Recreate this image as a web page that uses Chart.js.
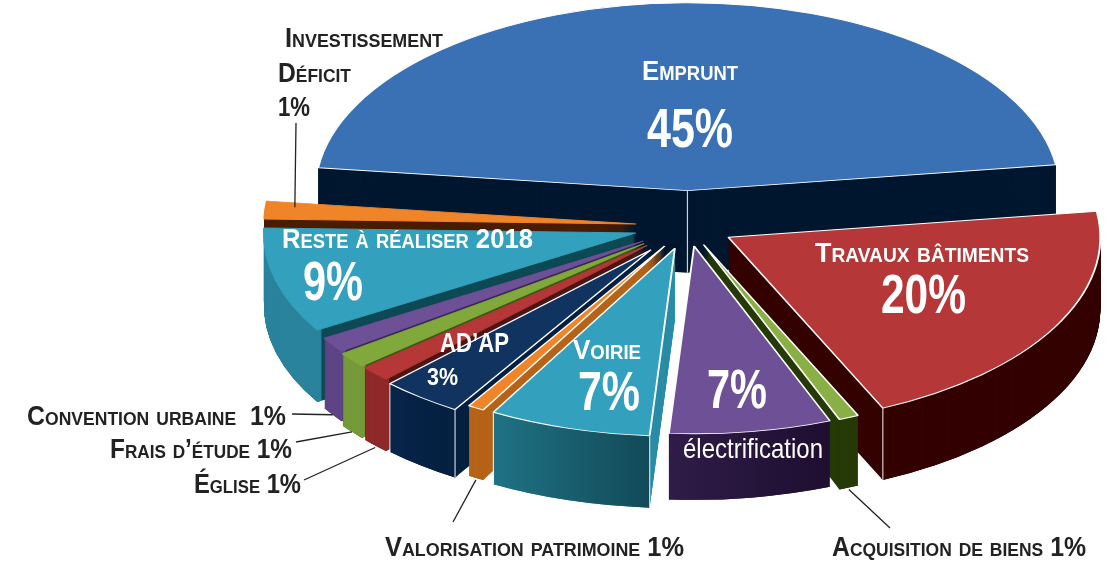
<!DOCTYPE html>
<html lang="fr">
<head>
<meta charset="utf-8">
<title>Budget</title>
<script src="https://cdn.jsdelivr.net/npm/chart.js@4"></script>
<style>
  html, body { margin: 0; padding: 0; background: #fff; }
  #wrap { width: 1120px; height: 562px; }
</style>
</head>
<body>
<div id="wrap"><canvas id="pie3d" width="1120" height="562"></canvas></div>
<script>
// Données (les étiquettes sont arrondies)
const categories = ['Emprunt', 'Travaux bâtiments', 'Acquisition de biens', 'électrification', 'Voirie',
    'Valorisation patrimoine', 'AD’AP', 'Église', 'Frais d’étude', 'Convention urbaine',
    'Reste à réaliser 2018', 'Investissement Déficit'];
const values = [45, 20, 0.85, 6.9, 6.9, 0.7, 3.49, 1.3, 1.3, 1.3, 8.9, 1.49];

// Couleurs : dessus, bord extérieur, face coupée
const topColors = ['#3a70b4', '#b53737', '#8ab045', '#6e5097', '#33a0bd', '#f08428', '#113360', '#b53737', '#80a83a', '#6e5097', '#33a0bd', '#f08428'];
const rimColors = ['#01172f', '#340101', '#263a08', ['#1e0e30', '#2f1c48'], ['#124a58', '#1f7284'], '#b56318', ['#03203f', '#07244a'], '#8f2a2a', '#76993a', '#5f4486', '#2a839c', '#4a1d00'];
const cutColors = ['#01172f', '#340101', '#263a08', '#1e0e30', '#2a8da8', '#b56318', '#03203f', '#4f1616', '#3d5a14', '#3a2858', '#0e4a55', '#4a1d00'];
const edgeColors = ['#fff', '#fff', '#fff', '#fff', '#fff', '#fff', '#fff', '#b53737', '#80a83a', '#6e5097', '#33a0bd', '#f08428'];

// Éclatement de chaque part et ordre de dessin (du fond vers l'avant)
const explode = [70, 46, 40, 40, 46, 46, 60, 56, 56, 54, 54, 52];
const drawOrder = [0, 11, 1, 2, 3, 10, 9, 8, 7, 6, 5, 4];
const depths = [82, 72, 70, 66, 72, 70, 68, 72, 72, 70, 72, 12];

const centerX = 688, centerY = 226, radiusX = 372, squash = 0.505;

const sans = '"Liberation Sans"';
const titleFont = 'small-caps bold 28px ' + sans;
const bigFont = 'bold 55px ' + sans;
const sideFont = 'small-caps bold 27px ' + sans;
// x = bord gauche, w = largeur occupée dans l'image
const textLabels = [
    { t: 'Emprunt', x: 642, w: 96, y: 80, f: titleFont, c: '#fff' },
    { t: '45%', x: 647, w: 86, y: 147, f: bigFont, c: '#fff' },
    { t: 'Travaux bâtiments', x: 815, w: 214, y: 262, f: titleFont, c: '#fff' },
    { t: '20%', x: 881, w: 85, y: 313, f: bigFont, c: '#fff' },
    { t: 'Reste à réaliser 2018', x: 282, w: 251, y: 248, f: titleFont, c: '#fff' },
    { t: '9%', x: 303, w: 60, y: 300, f: bigFont, c: '#fff' },
    { t: 'AD’AP', x: 440, w: 69, y: 352, f: 'bold 28px ' + sans, c: '#fff' },
    { t: '3%', x: 427, w: 31, y: 385, f: 'bold 24px ' + sans, c: '#fff' },
    { t: 'Voirie', x: 573, w: 68, y: 359, f: titleFont, c: '#fff' },
    { t: '7%', x: 578, w: 62, y: 410, f: bigFont, c: '#fff' },
    { t: '7%', x: 707, w: 60, y: 408, f: bigFont, c: '#fff' },
    { t: 'électrification', x: 683, w: 140, y: 458, f: '28px ' + sans, c: '#fff' },
    { t: 'Investissement', x: 285, w: 158, y: 47, f: sideFont, c: '#222' },
    { t: 'Déficit', x: 278, w: 73, y: 82, f: sideFont, c: '#222' },
    { t: '1%', x: 278, w: 32, y: 116, f: 'bold 27px ' + sans, c: '#222' },
    { t: 'Convention urbaine  1%', x: 27, w: 259, y: 425, f: sideFont, c: '#222' },
    { t: 'Frais d’étude 1%', x: 110, w: 182, y: 458, f: sideFont, c: '#222' },
    { t: 'Église 1%', x: 194, w: 107, y: 493, f: sideFont, c: '#222' },
    { t: 'Valorisation patrimoine 1%', x: 385, w: 299, y: 556, f: sideFont, c: '#222' },
    { t: 'Acquisition de biens 1%', x: 832, w: 254, y: 556, f: sideFont, c: '#222' }
];

// Traits de rappel : indice de la part, extrémité côté texte
const leaders = [
    { i: 11, x: 296, y: 123, k: 0, dy: -4, r: 0.92 },
    { i: 9, x: 292, y: 414, k: 1, dy: 0, r: 1 },
    { i: 8, x: 296, y: 442, k: 1, dy: 0, r: 1 },
    { i: 7, x: 304, y: 480, k: 1, dy: 2, r: 1 },
    { i: 5, x: 453, y: 522, k: 1, dy: 2, r: 1 },
    { i: 2, x: 890, y: 528, k: 1, dy: 2, r: 1 }
];

function partOffset(arc, i) {
    const mid = (arc.startAngle + arc.endAngle) / 2;
    return { x: Math.cos(mid) * explode[i], y: Math.sin(mid) * explode[i] * squash };
}

// Place le repère de la part, aplati en ellipse
function placeArc(ctx, arc, i, down) {
    const scaleX = radiusX / arc.outerRadius;
    const off = partOffset(arc, i);
    ctx.save();
    ctx.translate(centerX + off.x, centerY + off.y + down);
    ctx.scale(scaleX, scaleX * squash);
    ctx.translate(-arc.x, -arc.y);
}

function pointOn(arc, i, angle, r) {
    const off = partOffset(arc, i);
    return { x: centerX + off.x + Math.cos(angle) * r, y: centerY + off.y + Math.sin(angle) * r * squash };
}

function rimFill(ctx, arc, color) {
    if (typeof color === 'string') return color;
    const r = arc.outerRadius;
    const g = ctx.createLinearGradient(arc.x + Math.cos(arc.startAngle) * r, 0, arc.x + Math.cos(arc.endAngle) * r, 0);
    g.addColorStop(0, color[0]);
    g.addColorStop(1, color[1]);
    return g;
}

function drawPart(ctx, arc, i) {
    const original = arc.options;
    const inner = arc.innerRadius;

    // faces coupées
    arc.options = { ...original, backgroundColor: cutColors[i], borderWidth: 0 };
    for (let k = depths[i]; k > 0; k--) {
        placeArc(ctx, arc, i, k);
        arc.draw(ctx);
        ctx.restore();
    }
    // bord extérieur, une fine couronne descendue
    arc.innerRadius = arc.outerRadius - 4;
    arc.options = { ...original, backgroundColor: rimFill(ctx, arc, rimColors[i]), borderWidth: 0 };
    for (let k = depths[i]; k > 0; k--) {
        placeArc(ctx, arc, i, k);
        arc.draw(ctx);
        ctx.restore();
    }
    arc.innerRadius = inner;
    arc.options = original;

    // dessus
    placeArc(ctx, arc, i, 0);
    arc.draw(ctx);
    ctx.restore();
}

const pie3dPlugin = {
    id: 'pie3d',
    beforeDatasetsDraw(chart) {
        const ctx = chart.ctx;
        const arcs = chart.getDatasetMeta(0).data;
        drawOrder.forEach(i => drawPart(ctx, arcs[i], i));

        // arêtes blanches verticales
        ctx.save();
        ctx.strokeStyle = 'rgba(255,255,255,0.8)';
        ctx.lineWidth = 1.2;
        [[0, (arcs[0].startAngle + arcs[0].endAngle) / 2, 0],
         [1, arcs[1].endAngle, radiusX],
         [6, arcs[6].startAngle, radiusX],
         [6, arcs[6].endAngle, radiusX],
         [4, arcs[4].startAngle, radiusX],
         [4, arcs[4].endAngle, radiusX]].forEach(e => {
            const p = pointOn(arcs[e[0]], e[0], e[1], e[2]);
            ctx.beginPath();
            ctx.moveTo(p.x, p.y);
            ctx.lineTo(p.x, p.y + depths[e[0]]);
            ctx.stroke();
        });
        ctx.restore();
        return false;
    },
    afterDraw(chart) {
        const ctx = chart.ctx;
        const arcs = chart.getDatasetMeta(0).data;

        ctx.save();
        ctx.strokeStyle = '#222';
        ctx.lineWidth = 1.3;
        leaders.forEach(l => {
            const arc = arcs[l.i];
            const p = pointOn(arc, l.i, (arc.startAngle + arc.endAngle) / 2, radiusX * l.r);
            ctx.beginPath();
            ctx.moveTo(l.x, l.y);
            ctx.lineTo(p.x, p.y + depths[l.i] * l.k + l.dy);
            ctx.stroke();
        });
        ctx.restore();

        // texte resserré à la largeur voulue
        textLabels.forEach(l => {
            ctx.save();
            ctx.font = l.f;
            ctx.fillStyle = l.c;
            ctx.textAlign = 'left';
            ctx.textBaseline = 'alphabetic';
            ctx.translate(l.x, l.y);
            ctx.scale(l.w / ctx.measureText(l.t).width, 1);
            ctx.fillText(l.t, 0, 0);
            ctx.restore();
        });
    }
};

new Chart(document.getElementById('pie3d'), {
    type: 'pie',
    data: {
        labels: categories,
        datasets: [{
            data: values,
            backgroundColor: topColors,
            borderColor: edgeColors,
            borderWidth: 1.4,
            borderAlign: 'center'
        }]
    },
    options: {
        responsive: false,
        animation: false,
        events: [],
        rotation: -83,
        layout: { padding: 0 },
        plugins: { legend: { display: false }, tooltip: { enabled: false } }
    },
    plugins: [pie3dPlugin]
});
</script>
</body>
</html>
